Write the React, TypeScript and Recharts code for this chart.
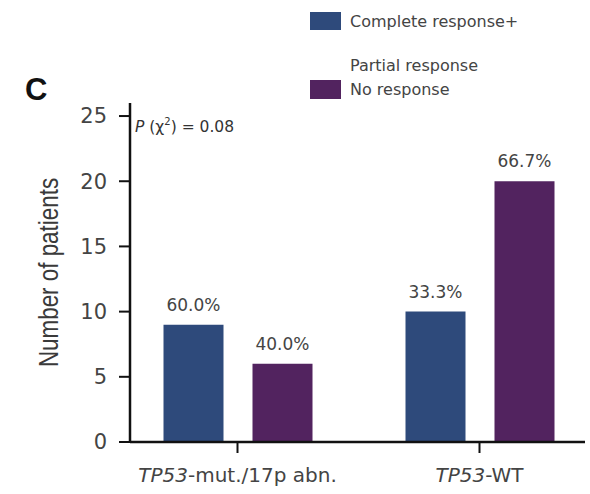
import { BarChart, Bar, XAxis, YAxis, LabelList } from "recharts";

document.body.style.margin = "0";

const categories = ["TP53-mut./17p abn.", "TP53-WT"];
const responders = [9, 10];
const nonResponders = [6, 20];
const responderPct = ["60.0%", "33.3%"];
const nonResponderPct = ["40.0%", "66.7%"];
const yTicks = [0, 5, 10, 15, 20, 25];

const BLUE = "#2e4a7b";
const PURPLE = "#52235f";
const TEXT = "#444";
const AXIS = "#111";
const FONT = "'DejaVu Sans', sans-serif";

const data = categories.map((name, i) => ({
  name,
  responders: responders[i],
  nonResponders: nonResponders[i],
  rPct: responderPct[i],
  nPct: nonResponderPct[i],
}));

function CategoryTick({ x, y, payload }: any) {
  const [gene, ...rest] = String(payload.value).split("-");
  return (
    <text x={x} y={y} dy="0.71em" textAnchor="middle" fill={TEXT} fontSize={20} fontFamily={FONT}>
      <tspan fontStyle="italic">{gene}</tspan>
      <tspan>{"-" + rest.join("-")}</tspan>
    </text>
  );
}

// condensed look of the original axis title
function YLabel({ viewBox }: any) {
  const cx = viewBox.x + 48;
  const cy = viewBox.y + viewBox.height / 2;
  return (
    <text
      x={0}
      y={0}
      transform={`translate(${cx} ${cy}) rotate(-90) scale(0.8 1)`}
      textAnchor="middle"
      dominantBaseline="central"
      fill="#3a3a3a"
      fontSize={28}
      fontFamily="'Liberation Sans', sans-serif"
    >
      Number of patients
    </text>
  );
}

function Overlay() {
  return (
    <svg
      width={590}
      height={494}
      style={{ position: "absolute", left: 0, top: 0, pointerEvents: "none" }}
    >
      <text x={25} y={100} fontSize={31} fontWeight="bold" fontFamily="'Liberation Sans', sans-serif" fill="#111">
        C
      </text>
      <text x={135} y={132} fontSize={15.5} fontFamily={FONT} fill="#333">
        <tspan fontStyle="italic">P</tspan>
        <tspan> (χ</tspan>
        <tspan dy={-7} fontSize={10}>2</tspan>
        <tspan dy={7}>) = 0.08</tspan>
      </text>
      <rect x={310} y={12} width={31} height={18} fill={BLUE} />
      <text x={350} y={27} fontSize={16} fontFamily={FONT} fill={TEXT}>
        Complete response+
      </text>
      <text x={350} y={71} fontSize={16} fontFamily={FONT} fill={TEXT}>
        Partial response
      </text>
      <rect x={310} y={80} width={31} height={19} fill={PURPLE} />
      <text x={350} y={95} fontSize={16} fontFamily={FONT} fill={TEXT}>
        No response
      </text>
    </svg>
  );
}

export default function App() {
  return (
    <div style={{ position: "relative", width: 590, height: 494 }}>
      <BarChart
        width={590}
        height={494}
        data={data}
        margin={{ top: 103, right: 5, bottom: 12, left: 0 }}
        barSize={60}
        barGap={29}
      >
        <XAxis
          dataKey="name"
          height={40}
          padding={{ left: -13.5, right: -15.5 }}
          axisLine={{ stroke: AXIS, strokeWidth: 2.5 }}
          tickLine={{ stroke: AXIS, strokeWidth: 2 }}
          tickSize={11}
          tickMargin={15}
          tick={<CategoryTick />}
          interval={0}
        />
        <YAxis
          width={130}
          domain={[0, 26]}
          ticks={yTicks}
          axisLine={{ stroke: AXIS, strokeWidth: 2.5 }}
          tickLine={{ stroke: AXIS, strokeWidth: 2 }}
          tickSize={11}
          tickMargin={12}
          tick={{ fill: TEXT, fontSize: 21, fontFamily: FONT }}
          label={<YLabel />}
        />
        <Bar dataKey="responders" name="Complete response+ Partial response" fill={BLUE} isAnimationActive={false}>
          <LabelList dataKey="rPct" position="top" offset={14} fill={TEXT} fontSize={17} fontFamily={FONT} />
        </Bar>
        <Bar dataKey="nonResponders" name="No response" fill={PURPLE} isAnimationActive={false}>
          <LabelList dataKey="nPct" position="top" offset={14} fill={TEXT} fontSize={17} fontFamily={FONT} />
        </Bar>
      </BarChart>
      <Overlay />
    </div>
  );
}
